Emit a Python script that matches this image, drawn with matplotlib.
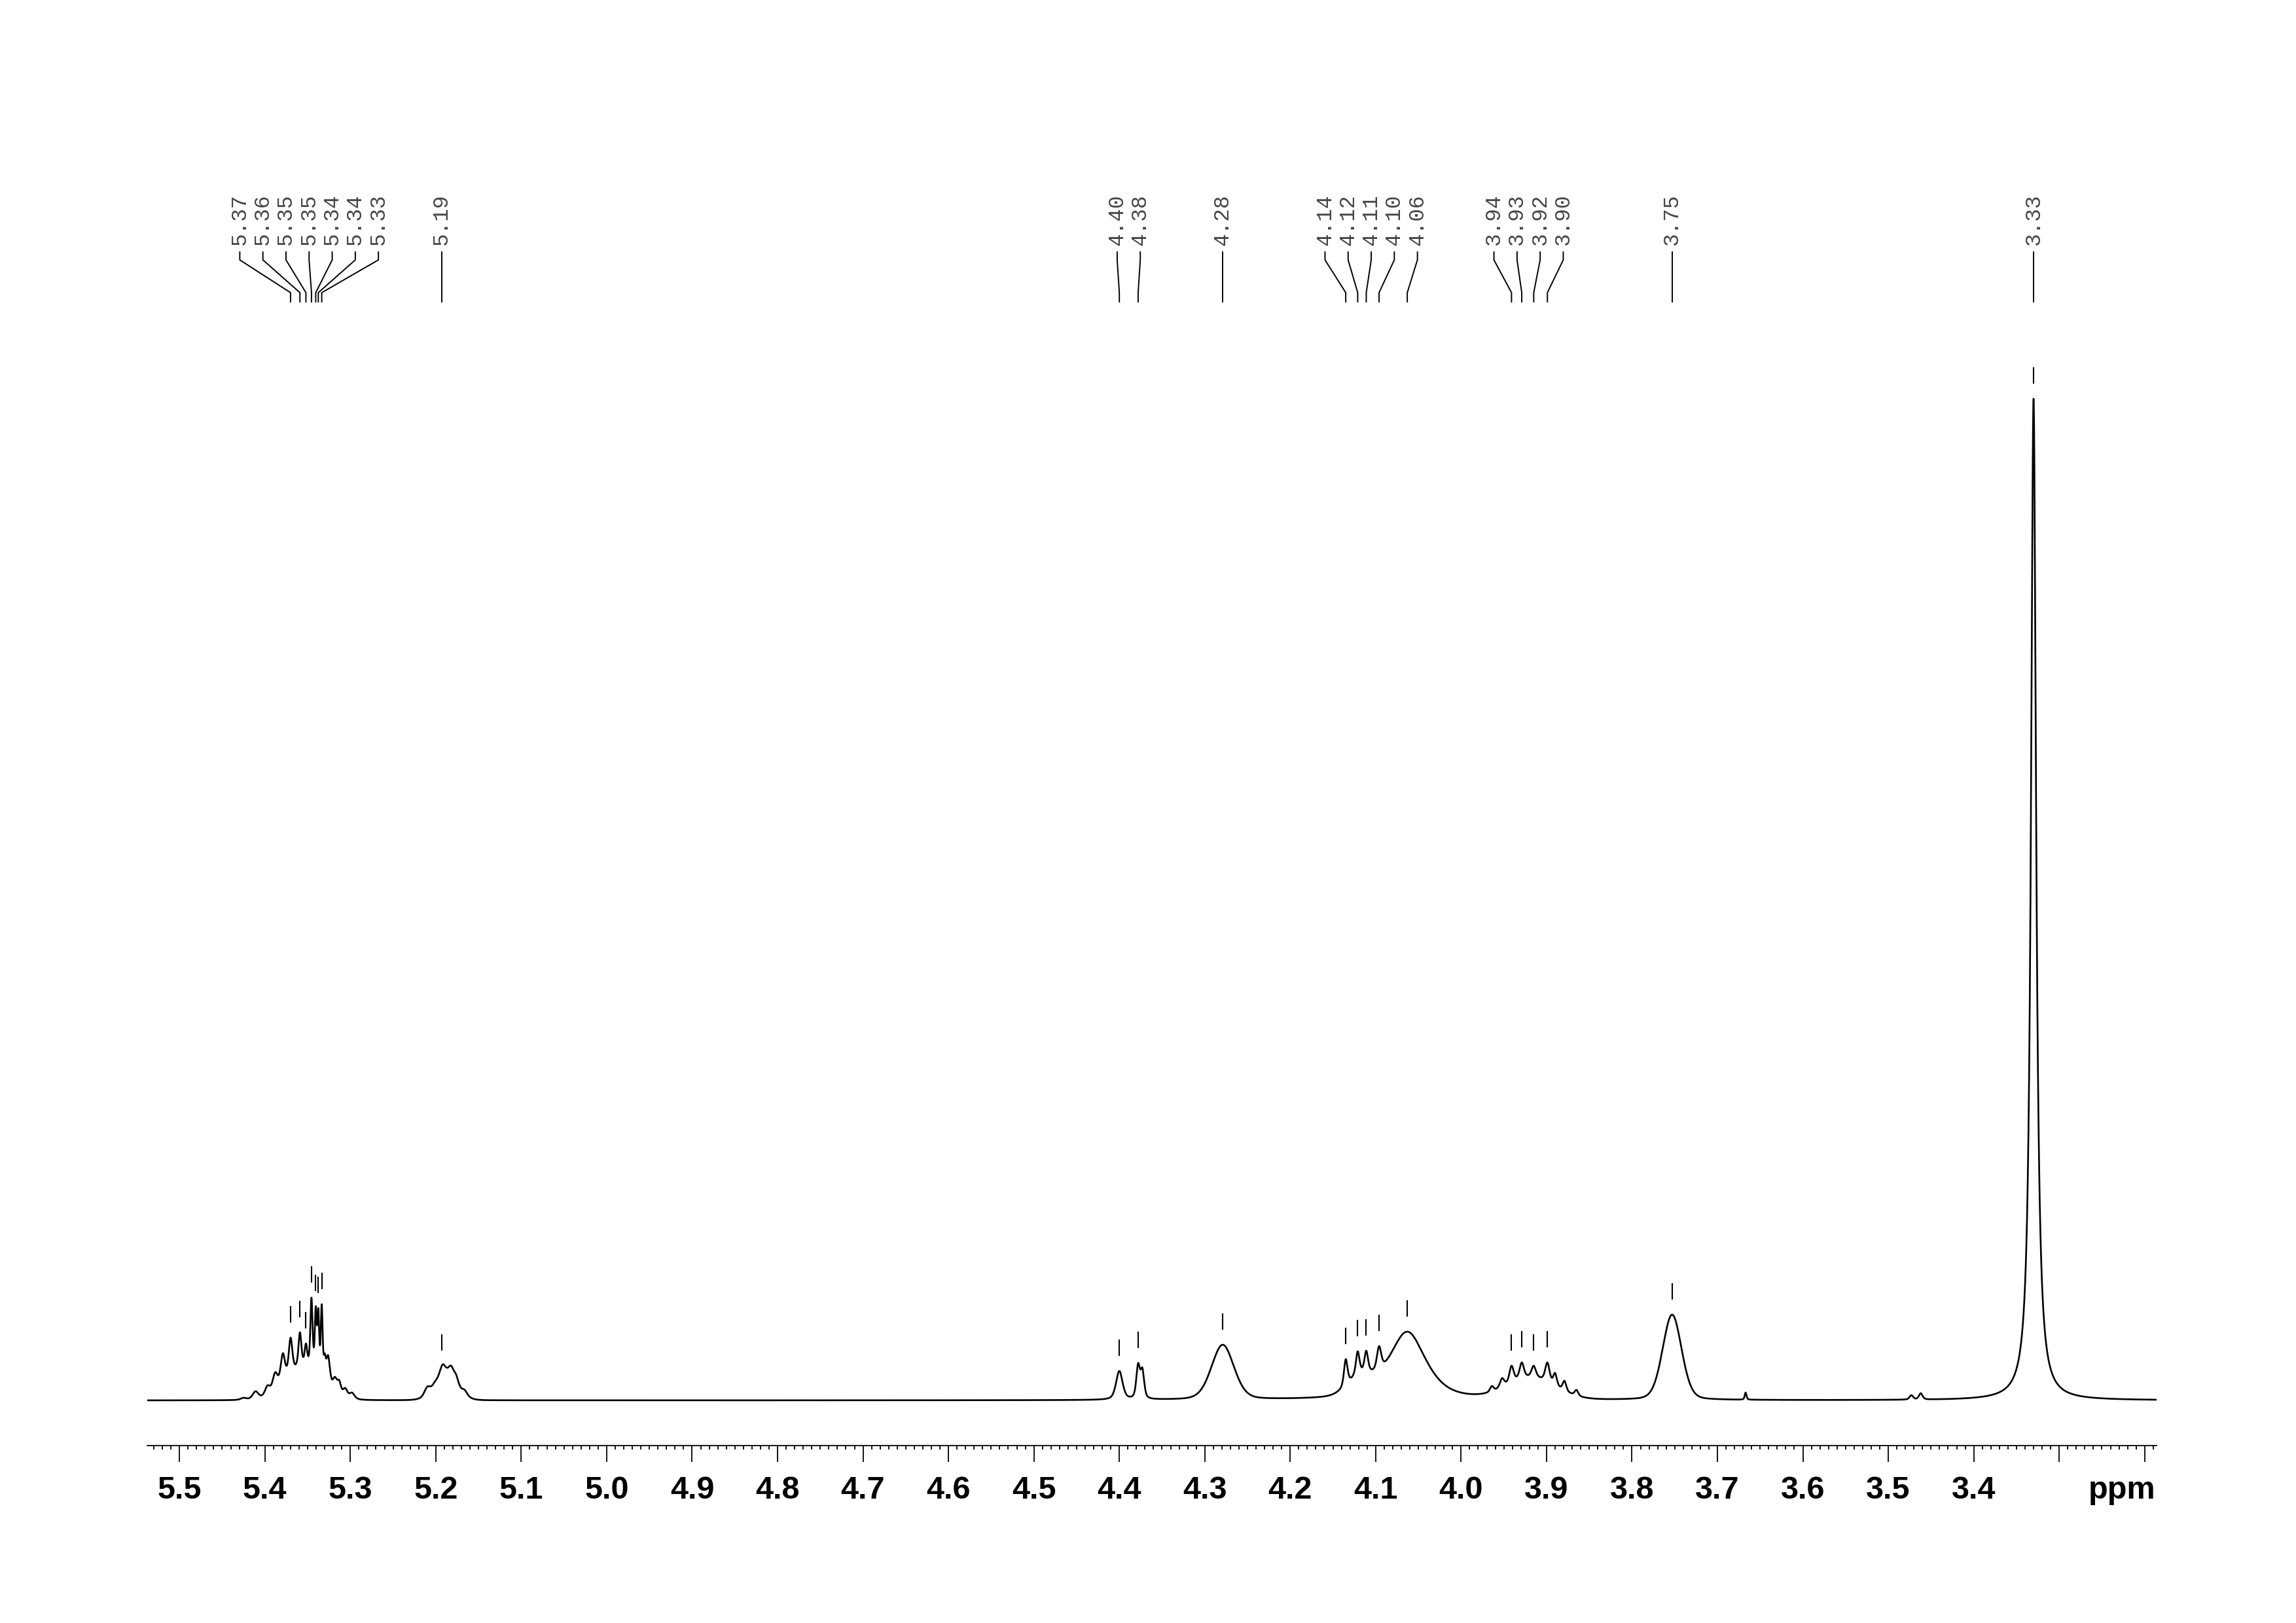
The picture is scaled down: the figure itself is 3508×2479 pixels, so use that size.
import numpy as np
import matplotlib
matplotlib.use('Agg')
import matplotlib.pyplot as plt
import matplotlib.transforms as mtransforms

plt.rcParams['font.family'] = ['Liberation Sans', 'DejaVu Sans']

# shown window of the 1H spectrum (ppm)
ppm_left = 5.538
ppm_right = 3.186

# resolved lines: position (ppm), apex height, fwhm (ppm), lorentz fraction
line_ppm = [5.425, 5.411, 5.397, 5.388, 5.379, 5.370, 5.359, 5.352, 5.3455, 5.3405,
            5.3375, 5.3335, 5.330, 5.326, 5.318, 5.313, 5.306, 5.298,
            5.210, 5.201, 5.192, 5.182, 5.176, 5.166,
            4.400, 4.378, 4.373,
            4.279,
            4.135, 4.121, 4.111, 4.096, 4.063,
            3.964, 3.952, 3.941, 3.929, 3.915, 3.899, 3.890, 3.879, 3.865,
            3.753, 3.667, 3.473, 3.462, 3.330]
line_height = [4, 14, 23, 43, 72, 96, 104, 87, 157, 144,
               141, 147, 72, 69, 36, 31, 19, 12,
               21, 29, 55, 53, 39, 16,
               45, 57, 50,
               85,
               63, 75, 76, 83, 105,
               22, 34, 53, 58, 53, 58, 42, 30, 16,
               131, 12, 8, 11, 1530]
line_fwhm = [0.008, 0.008, 0.007, 0.007, 0.006, 0.005, 0.004, 0.0035, 0.003, 0.0025,
             0.0025, 0.0025, 0.003, 0.005, 0.006, 0.005, 0.006, 0.007,
             0.008, 0.007, 0.008, 0.008, 0.006, 0.007,
             0.009, 0.005, 0.005,
             0.031,
             0.005, 0.005, 0.005, 0.006, 0.052,
             0.005, 0.006, 0.006, 0.006, 0.006, 0.006, 0.005, 0.005, 0.005,
             0.026, 0.0025, 0.005, 0.005, 0.0072]
line_eta = [0.5] * 27 + [0.25] + [0.5] * 4 + [0.7] + [0.5] * 9 + [0.2, 0.5, 0.5, 0.5, 1.0]

# broad humps under the multiplets
hump_ppm = [5.354, 5.188, 4.118, 3.918]
hump_amp = [50, 36, 25, 32]
hump_fwhm = [0.048, 0.03, 0.035, 0.065]

# peak picking
pick_ppm = [5.370, 5.359, 5.352, 5.3455, 5.3405, 5.3375, 5.3335, 5.193,
            4.400, 4.378, 4.279, 4.135, 4.121, 4.111, 4.096, 4.063,
            3.941, 3.929, 3.915, 3.899, 3.753, 3.330]
pick_text = ['5.37', '5.36', '5.35', '5.35', '5.34', '5.34', '5.33', '5.19',
             '4.40', '4.38', '4.28', '4.14', '4.12', '4.11', '4.10', '4.06',
             '3.94', '3.93', '3.92', '3.90', '3.75', '3.33']
pick_group = [0, 0, 0, 0, 0, 0, 0, 1, 2, 2, 3, 4, 4, 4, 4, 4, 5, 5, 5, 5, 6, 7]


def pvoigt(x, c, w, eta):
    d = (x - c) / (w / 2)
    return eta / (1 + d ** 2) + (1 - eta) * np.exp(-np.log(2) * d ** 2)


def hump(x):
    out = np.zeros_like(x, dtype=float)
    for c, a, w in zip(hump_ppm, hump_amp, hump_fwhm):
        out += a * pvoigt(x, c, w, 0.0)
    return out


# amplitudes so that the summed curve hits the read apex heights
lp = np.array(line_ppm)
A = np.array([[pvoigt(p, c, w, e) for c, w, e in zip(line_ppm, line_fwhm, line_eta)] for p in lp])
amp = np.linalg.solve(A, np.array(line_height) - hump(lp))
amp = np.clip(amp, 0, None)

x = np.arange(3.18, 5.545, 0.0001)
y = hump(x)
for a, c, w, e in zip(amp, line_ppm, line_fwhm, line_eta):
    y += a * pvoigt(x, c, w, e)

W, H = 3508, 2479
fig = plt.figure(figsize=(W / 100, H / 100), dpi=100)
ax = fig.add_axes([224.6 / W, (H - 2207.5) / H, (3295 - 224.6) / W, (2207.5 - 500) / H])
ax.plot(x, y, color='black', lw=1.9)
ax.set_xlim(ppm_left, ppm_right)
ax.set_ylim(-68.5, 1639)

for s in ['top', 'left', 'right']:
    ax.spines[s].set_visible(False)
ax.spines['bottom'].set_linewidth(1.3)
ax.set_yticks([])

trans = mtransforms.blended_transform_factory(ax.transData, fig.transFigure)
fy = lambda p: 1 - p / H

major = np.round(np.arange(5.5, 3.15, -0.1), 1)
ax.set_xticks(major, [''] * len(major))
ax.set_xticks(np.round(np.arange(5.53, 3.185, -0.01), 2), minor=True)
ax.tick_params(axis='x', which='major', length=18, width=1.3)
ax.tick_params(axis='x', which='minor', length=4.3, width=1.3)
for v in major[:-2]:
    ax.text(v, fy(2289), '%.1f' % v, transform=trans, ha='center', va='baseline',
            fontsize=35, fontweight='bold')
fig.text(3293 / W, fy(2289), 'ppm', ha='right', va='baseline', fontsize=35, fontweight='bold')

# peak labels above the spectrum
step = 35.3 / 1305.6
pick_ppm_arr = np.array(pick_ppm)
pick_group_arr = np.array(pick_group)
for g in np.unique(pick_group_arr):
    idx = np.where(pick_group_arr == g)[0]
    center = pick_ppm_arr[idx].mean()
    n = len(idx)
    for k, i in enumerate(idx):
        lx = center + ((n - 1) / 2 - k) * step
        p = pick_ppm[i]
        ax.plot([lx, lx, p, p], [fy(385), fy(397), fy(447), fy(461)], transform=trans,
                clip_on=False, color='black', lw=1.4)
        ax.text(lx, fy(375), pick_text[i], rotation=90, ha='center', va='bottom',
                transform=trans, fontsize=23.5, family=['Liberation Mono', 'DejaVu Sans Mono'],
                color='#444444')
        top = np.interp(p, x, y)
        ax.plot([p, p], [top + 24, top + 47], color='black', lw=1.5, clip_on=False)

fig.savefig('out.png', dpi=100)
